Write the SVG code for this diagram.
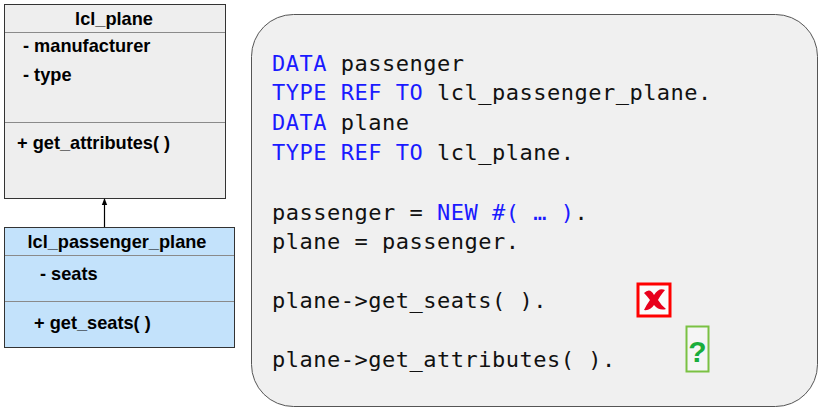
<svg xmlns="http://www.w3.org/2000/svg" width="820" height="409" viewBox="0 0 820 409">
<defs>
<style>
.cls{stroke:#333;stroke-width:1}
.sep{stroke:#8a8a8a;stroke-width:1}
.t{font-family:"Liberation Sans",Arial,sans-serif;font-weight:bold;font-size:18.2px;fill:#000}
.code{font-family:"DejaVu Sans Mono","Liberation Mono",monospace;font-size:22px;letter-spacing:0.5px;fill:#111}
.kw{fill:#1a1aff}
</style>
<marker id="ah" viewBox="0 0 10 10" refX="9" refY="5" markerWidth="7" markerHeight="7" orient="auto" markerUnits="userSpaceOnUse">
<path d="M0,1 L10,5 L0,9 z" fill="#000"/>
</marker>
</defs>
<rect width="820" height="409" fill="#fff"/>

<g id="lcl_plane">
<rect x="4.5" y="4.5" width="221" height="194" fill="#eeeeee" class="cls"/>
<line x1="5" y1="32.5" x2="225" y2="32.5" class="sep"/>
<line x1="5" y1="122.5" x2="225" y2="122.5" class="sep"/>
<text x="114" y="25" class="t" text-anchor="middle">lcl_plane</text>
<text x="23" y="52" class="t">- manufacturer</text>
<text x="23" y="81" class="t">- type</text>
<text x="17" y="149" class="t">+ get_attributes( )</text>
</g>

<g id="lcl_passenger_plane">
<rect x="4.5" y="227.5" width="230" height="120" fill="#c3e2fb" class="cls"/>
<line x1="5" y1="255.5" x2="234" y2="255.5" class="sep"/>
<line x1="5" y1="301.5" x2="234" y2="301.5" class="sep"/>
<text x="117" y="248" class="t" text-anchor="middle">lcl_passenger_plane</text>
<text x="40" y="280" class="t">- seats</text>
<text x="34" y="329" class="t">+ get_seats( )</text>
</g>

<g id="connectors">
<line x1="104.5" y1="227" x2="104.5" y2="199" stroke="#000" stroke-width="1.2" marker-end="url(#ah)"/>
</g>

<g id="code">
<rect x="251.5" y="14.5" width="566" height="392" rx="42" ry="42" fill="#f0f0f0" stroke="#555" stroke-width="1"/>
<text x="272" y="71" class="code"><tspan class="kw">DATA</tspan> passenger</text>
<text x="272" y="100" class="code"><tspan class="kw">TYPE REF TO</tspan> lcl_passenger_plane.</text>
<text x="272" y="130" class="code"><tspan class="kw">DATA</tspan> plane</text>
<text x="272" y="160" class="code"><tspan class="kw">TYPE REF TO</tspan> lcl_plane.</text>
<text x="272" y="220" class="code">passenger = <tspan class="kw">NEW #( … )</tspan>.</text>
<text x="272" y="249" class="code">plane = passenger.</text>
<text x="272" y="308" class="code">plane-&gt;get_seats( ).</text>
<text x="272" y="367" class="code">plane-&gt;get_attributes( ).</text>
</g>

<g id="x_icon">
<rect x="638" y="284" width="32" height="32" fill="#fbfbfb" stroke="#ff0000" stroke-width="3"/>
<path d="M644,293 Q650,287 654,295 Q659,287 665,290 Q660,296 658,300 Q661,305 666,309 Q659,311 654,305 Q650,311 644,310 Q647,304 650,300 Q647,296 644,293 z" fill="#e8001c"/>
</g>

<g id="q_icon">
<rect x="686.5" y="326.5" width="22" height="45" fill="#f5f5f5" stroke="#7ac143" stroke-width="2"/>
<text x="697.5" y="362" font-family="'Liberation Sans',Arial,sans-serif" font-weight="bold" font-size="30" fill="#1aad3c" text-anchor="middle">?</text>
</g>
</svg>
